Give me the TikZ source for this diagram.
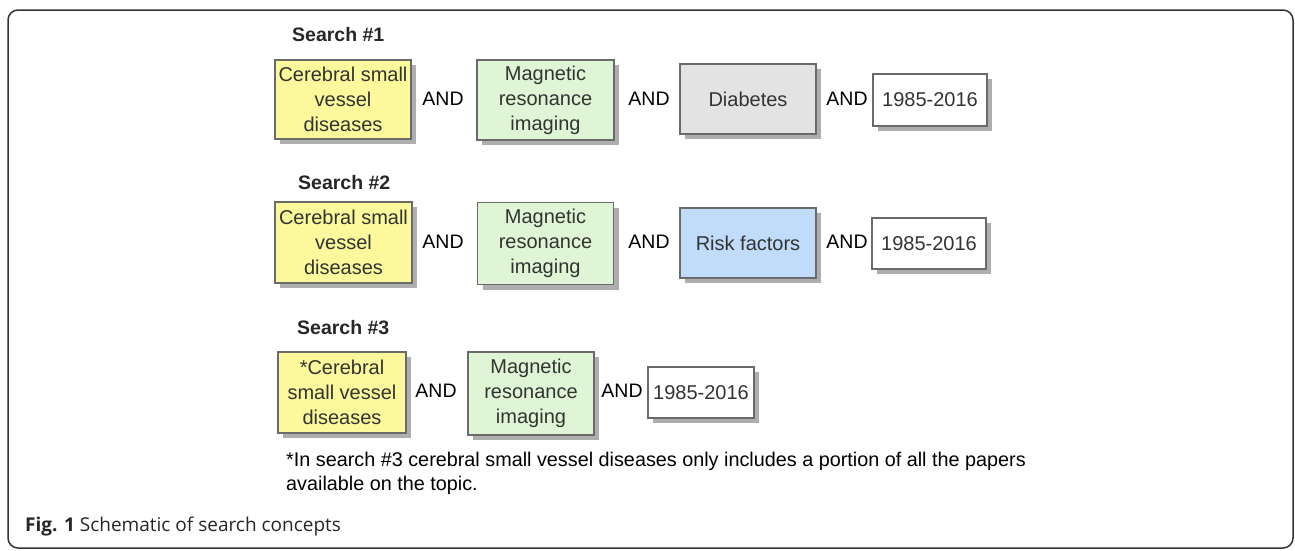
\documentclass[tikz,border=0pt]{standalone}
\usepackage{fontspec}
\setmainfont{Liberation Sans}
\newfontfamily\capfont{Open Sans}
\definecolor{ylw}{HTML}{FBF99B}
\definecolor{grn}{HTML}{DFF5D5}
\definecolor{gry}{HTML}{E3E3E3}
\definecolor{blu}{HTML}{C0DCFA}
\definecolor{bord}{HTML}{6A6A6A}
\definecolor{shad}{HTML}{9A9A9A}
\definecolor{txt}{HTML}{333333}
\begin{document}
\begin{tikzpicture}[x=1pt,y=-1pt,
  box/.style={draw=bord, line width=1.2pt, text=txt, align=center, inner sep=0pt,
    font=\fontsize{20}{25}\selectfont,
    preaction={fill=shad, opacity=0.8, transform canvas={xshift=5pt,yshift=-5pt}}},
  andlbl/.style={font=\fontsize{19.5}{25}\selectfont, inner sep=0pt},
  title/.style={font=\fontsize{19.5}{25}\selectfont\bfseries, anchor=west, inner sep=0pt, text=black!85},
]
\useasboundingbox (0,0) rectangle (1295,550);
\draw[line width=1.5pt, draw=black!80, rounded corners=10pt] (8,10) rectangle (1293,548);

% Row 1
\node[title] (s1) at (292,35) {Search \#1};
\node[box, fill=ylw, minimum width=136pt, minimum height=79pt] (y1) at (343,99.5) {Cerebral small\\vessel\\diseases};
\node[andlbl] (a11) at (443,99) {AND};
\node[box, fill=grn, minimum width=137pt, minimum height=80pt] (g1) at (545.5,100) {Magnetic\\resonance\\imaging};
\node[andlbl] (a12) at (649,99) {AND};
\node[box, fill=gry, minimum width=136pt, minimum height=70pt] (d1) at (748,99) {Diabetes};
\node[andlbl] (a13) at (847,99) {AND};
\node[box, fill=white, minimum width=114pt, minimum height=52pt] (w1) at (930,100) {1985-2016};

% Row 2
\node[title] (s2) at (298,183) {Search \#2};
\node[box, fill=ylw, minimum width=137pt, minimum height=81pt] (y2) at (343.5,242.5) {Cerebral small\\vessel\\diseases};
\node[andlbl] (a21) at (443,242) {AND};
\node[box, fill=grn, minimum width=136pt, minimum height=82pt] (g2) at (545.5,243.5) {Magnetic\\resonance\\imaging};
\node[andlbl] (a22) at (649,242) {AND};
\node[box, fill=blu, minimum width=136pt, minimum height=70pt] (b2) at (748,243) {Risk factors};
\node[andlbl] (a23) at (847,242) {AND};
\node[box, fill=white, minimum width=114pt, minimum height=51pt] (w2) at (929,243.5) {1985-2016};

% Row 3
\node[title] (s3) at (297,328) {Search \#3};
\node[box, fill=ylw, minimum width=128pt, minimum height=81pt] (y3) at (342,392.5) {*Cerebral\\small vessel\\diseases};
\node[andlbl] (a31) at (436,391) {AND};
\node[box, fill=grn, minimum width=126pt, minimum height=83pt] (g3) at (531,393.5) {Magnetic\\resonance\\imaging};
\node[andlbl] (a32) at (622,391) {AND};
\node[box, fill=white, minimum width=106pt, minimum height=51pt] (w3) at (701,392.5) {1985-2016};

% Footnote
\node[anchor=north west, inner sep=0pt, align=left, font=\fontsize{19.8}{24}\selectfont, text=black] (fn) at (286,452)
  {*In search \#3 cerebral small vessel diseases only includes a portion of all the papers\\available on the topic.};

% Caption
\node[anchor=west, inner sep=0pt, font=\capfont\fontsize{19}{22}\selectfont, text=black!85] (cap) at (25,527)
  {{\bfseries Fig. 1} Schematic of search concepts};
\end{tikzpicture}
\end{document}
